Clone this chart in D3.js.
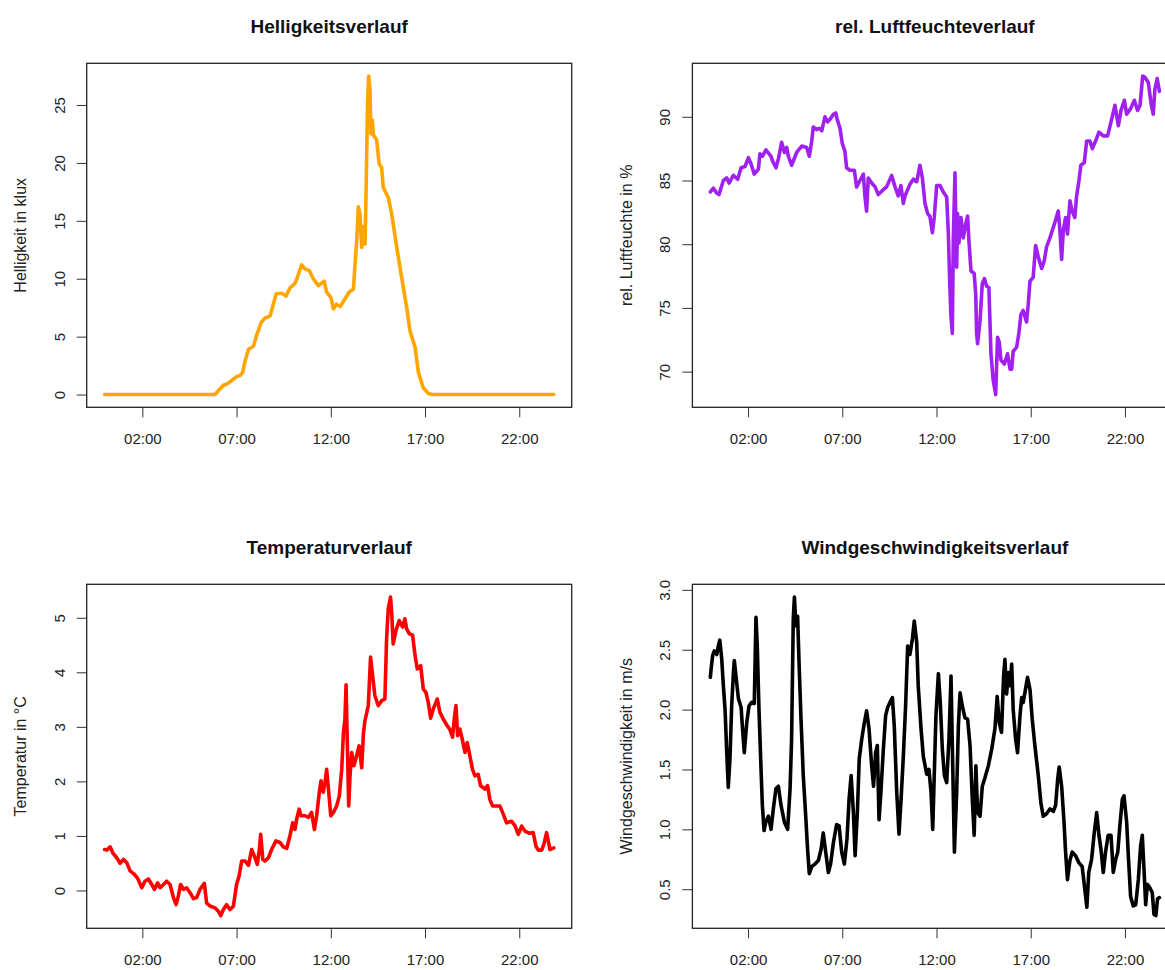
<!DOCTYPE html>
<html>
<head>
<meta charset="utf-8">
<script src="https://cdn.jsdelivr.net/npm/d3@7"></script>
<style>
  body { margin: 0; background: #fff; }
  svg { font-family: "Liberation Sans", Arial, sans-serif; }
</style>
</head>
<body>
<div id="chart"></div>
<script>
// time of day in hours

// Helligkeit (klux)
var lightHours = [0, 5.85, 6.3, 6.47, 6.73, 7.0, 7.18, 7.32, 7.45, 7.63, 7.9, 8.08, 8.3, 8.5, 8.78, 8.9, 9.1, 9.4, 9.62, 9.83,
  10.1, 10.2, 10.45, 10.63, 10.86, 11.07, 11.34, 11.65, 11.78, 12.0, 12.14, 12.3, 12.5, 12.75, 13.0, 13.2, 13.3, 13.38, 13.46, 13.55,
  13.64, 13.73, 13.82, 13.9, 13.95, 14.01, 14.08, 14.13, 14.2, 14.26, 14.43, 14.57, 14.7, 14.78, 15.05, 15.23, 15.5, 15.76, 16.03, 16.2,
  16.47, 16.65, 16.9, 17.17, 17.4, 23.83];
var lightKlux = [0, 0, 0.8, 0.9, 1.2, 1.55, 1.65, 1.9, 2.9, 3.9, 4.2, 5.2, 6.2, 6.6, 6.8, 7.5, 8.7, 8.75, 8.5, 9.2,
  9.6, 10.0, 11.2, 10.85, 10.7, 10.0, 9.4, 9.8, 8.85, 8.4, 7.4, 7.8, 7.6, 8.25, 8.9, 9.1, 11.6, 13.4, 16.2, 15.6,
  12.7, 14.5, 13.0, 20.2, 25.1, 27.5, 26.3, 22.5, 23.7, 22.4, 22.0, 19.9, 19.6, 17.9, 17.0, 15.6, 12.7, 10.1, 7.5, 5.5,
  4.1, 1.9, 0.6, 0.1, 0, 0];

// rel. Luftfeuchte (%)
var humidHours = [0, 0.16, 0.34, 0.46, 0.69, 0.87, 0.99, 1.22, 1.45, 1.63, 1.84, 2.02, 2.16, 2.33, 2.55, 2.63, 2.76, 2.95, 3.22, 3.31,
  3.48, 3.61, 3.78, 3.93, 4.05, 4.14, 4.31, 4.58, 4.85, 5.11, 5.25, 5.38, 5.46, 5.64, 5.77, 5.91, 6.08, 6.22, 6.35, 6.53,
  6.65, 6.75, 6.88, 7.0, 7.14, 7.23, 7.41, 7.64, 7.76, 7.94, 8.12, 8.2, 8.29, 8.38, 8.56, 8.74, 8.91, 9.12, 9.35, 9.62,
  9.8, 9.97, 10.11, 10.24, 10.33, 10.59, 10.77, 10.95, 11.12, 11.25, 11.39, 11.53, 11.65, 11.78, 11.88, 12.01, 12.19, 12.36, 12.54, 12.63,
  12.71, 12.77, 12.84, 12.89, 12.98, 13.07, 13.12, 13.19, 13.3, 13.42, 13.55, 13.65, 13.72, 13.83, 14.0, 14.08, 14.13, 14.18, 14.31, 14.43,
  14.54, 14.66, 14.78, 14.89, 15.01, 15.14, 15.24, 15.33, 15.42, 15.6, 15.77, 15.9, 15.99, 16.07, 16.25, 16.37, 16.48, 16.6, 16.78, 16.87,
  16.96, 17.13, 17.26, 17.4, 17.58, 17.72, 17.84, 18.02, 18.28, 18.46, 18.55, 18.64, 18.73, 18.85, 18.95, 19.08, 19.2, 19.34, 19.43, 19.56,
  19.66, 19.84, 19.97, 20.14, 20.27, 20.44, 20.62, 20.85, 21.08, 21.26, 21.47, 21.65, 21.79, 21.97, 22.09, 22.32, 22.5, 22.67, 22.8, 22.94,
  23.06, 23.24, 23.38, 23.5, 23.59, 23.71, 23.83];
var humidPct = [84.1, 84.4, 84.0, 83.9, 85.0, 85.2, 84.8, 85.4, 85.1, 86.0, 86.1, 86.8, 86.3, 85.5, 85.9, 87.1, 86.9, 87.4, 86.9, 86.5,
  86.0, 86.7, 88.0, 87.2, 87.6, 86.9, 86.2, 87.2, 87.7, 87.6, 86.9, 88.1, 89.2, 89.0, 89.1, 88.9, 90.0, 89.6, 89.8, 90.2,
  90.3, 89.7, 89.1, 87.9, 87.3, 86.0, 85.8, 85.8, 84.5, 85.0, 85.5, 83.8, 82.6, 85.2, 84.8, 84.5, 83.9, 84.2, 84.5, 85.4,
  84.5, 83.8, 84.6, 83.2, 83.8, 84.7, 85.1, 84.9, 86.2, 85.2, 83.2, 82.4, 82.2, 80.9, 82.1, 84.6, 84.6, 84.1, 83.7, 80.8,
  76.6, 74.3, 73.0, 80.3, 85.6, 78.2, 82.4, 80.1, 82.1, 80.5, 81.6, 82.2, 80.3, 77.9, 77.7, 76.1, 73.0, 72.2, 74.0, 76.9,
  77.3, 76.7, 76.6, 71.4, 69.3, 68.2, 72.7, 72.3, 70.9, 70.6, 71.4, 70.2, 70.2, 71.6, 71.9, 73.0, 74.5, 74.8, 73.9, 75.3,
  77.1, 77.4, 79.9, 79.0, 78.1, 78.7, 79.8, 80.5, 81.7, 82.6, 81.1, 78.8, 81.1, 82.1, 80.8, 83.4, 82.6, 82.1, 83.7, 85.0,
  86.2, 86.4, 88.1, 88.1, 87.5, 88.1, 88.8, 88.5, 88.5, 89.6, 90.9, 89.3, 90.5, 91.3, 90.2, 90.7, 91.3, 90.5, 90.9, 93.2,
  93.1, 92.7, 91.1, 90.2, 92.2, 93.0, 92.0];

// Temperatur (°C)
var tempHours = [0, 0.12, 0.29, 0.43, 0.64, 0.82, 1.0, 1.17, 1.35, 1.53, 1.74, 1.97, 2.14, 2.32, 2.5, 2.64, 2.81, 2.94, 3.12, 3.29,
  3.47, 3.65, 3.79, 3.91, 4.03, 4.18, 4.35, 4.53, 4.71, 4.88, 5.06, 5.29, 5.41, 5.62, 5.86, 6.03, 6.16, 6.3, 6.47, 6.65,
  6.83, 7.0, 7.13, 7.27, 7.45, 7.63, 7.8, 7.98, 8.1, 8.21, 8.28, 8.39, 8.51, 8.69, 8.86, 9.09, 9.3, 9.48, 9.66, 9.83,
  9.98, 10.1, 10.19, 10.32, 10.42, 10.63, 10.81, 10.98, 11.13, 11.25, 11.39, 11.48, 11.6, 11.69, 11.78, 11.89, 12.0, 12.14, 12.31, 12.45,
  12.58, 12.67, 12.75, 12.81, 12.88, 12.95, 13.02, 13.11, 13.23, 13.37, 13.5, 13.64, 13.73, 13.81, 13.99, 14.11, 14.22, 14.34, 14.52, 14.7,
  14.87, 14.96, 15.05, 15.17, 15.24, 15.31, 15.46, 15.63, 15.81, 15.93, 16.02, 16.16, 16.34, 16.47, 16.59, 16.77, 16.91, 17.05, 17.17, 17.3,
  17.44, 17.65, 17.79, 17.97, 18.18, 18.32, 18.46, 18.55, 18.64, 18.73, 18.85, 18.99, 19.12, 19.24, 19.38, 19.52, 19.65, 19.82, 19.95, 20.18,
  20.32, 20.44, 20.58, 20.8, 20.97, 21.15, 21.33, 21.59, 21.77, 21.95, 22.13, 22.3, 22.53, 22.74, 22.89, 23.01, 23.19, 23.31, 23.45, 23.54,
  23.63, 23.83];
var tempC = [0.75, 0.74, 0.80, 0.69, 0.60, 0.50, 0.57, 0.51, 0.36, 0.31, 0.23, 0.05, 0.17, 0.21, 0.11, 0.02, 0.14, 0.05, 0.11, 0.17,
  0.11, -0.13, -0.26, -0.10, 0.11, 0.02, 0.05, -0.04, -0.15, -0.13, 0.02, 0.13, -0.23, -0.29, -0.32, -0.38, -0.46, -0.35, -0.26, -0.35,
  -0.29, 0.11, 0.26, 0.54, 0.54, 0.46, 0.75, 0.60, 0.48, 0.75, 1.03, 0.57, 0.54, 0.60, 0.75, 0.91, 0.88, 0.80, 0.77, 1.0,
  1.24, 1.12, 1.31, 1.49, 1.37, 1.37, 1.34, 1.43, 1.12, 1.37, 1.80, 2.01, 1.80, 1.98, 2.22, 1.80, 1.37, 1.43, 1.55, 1.73,
  2.22, 2.90, 3.14, 3.77, 2.65, 1.55, 2.10, 2.53, 2.29, 2.47, 2.65, 2.25, 2.87, 3.11, 3.39, 4.28, 3.94, 3.57, 3.39, 3.48,
  3.51, 4.61, 5.17, 5.38, 5.04, 4.52, 4.77, 4.95, 4.83, 4.98, 4.80, 4.71, 4.68, 4.31, 4.06, 4.12, 3.69, 3.63, 3.45, 3.16,
  3.33, 3.51, 3.27, 3.14, 3.02, 2.95, 2.81, 3.14, 3.39, 2.84, 2.96, 2.75, 2.53, 2.71, 2.47, 2.22, 2.10, 2.13, 1.92, 1.86,
  1.92, 1.67, 1.55, 1.55, 1.55, 1.40, 1.24, 1.27, 1.19, 1.03, 1.18, 1.09, 1.05, 1.06, 0.81, 0.74, 0.74, 0.85, 1.06, 0.91,
  0.75, 0.78];

// Windgeschwindigkeit (m/s)
var windHours = [0, 0.04, 0.12, 0.21, 0.34, 0.42, 0.5, 0.6, 0.69, 0.78, 0.87, 0.95, 1.04, 1.13, 1.22, 1.27, 1.36, 1.49, 1.63, 1.72,
  1.8, 1.93, 2.05, 2.19, 2.33, 2.42, 2.49, 2.58, 2.69, 2.76, 2.85, 2.94, 3.08, 3.22, 3.34, 3.48, 3.61, 3.75, 3.93, 4.1,
  4.23, 4.31, 4.4, 4.46, 4.54, 4.63, 4.7, 4.81, 4.93, 5.06, 5.16, 5.25, 5.38, 5.55, 5.73, 5.87, 5.99, 6.12, 6.26, 6.38,
  6.53, 6.7, 6.83, 6.97, 7.11, 7.25, 7.36, 7.47, 7.59, 7.68, 7.8, 7.9, 8.03, 8.17, 8.29, 8.42, 8.56, 8.66, 8.77, 8.86,
  8.95, 9.05, 9.18, 9.3, 9.41, 9.53, 9.66, 9.76, 9.89, 10.01, 10.12, 10.24, 10.36, 10.47, 10.59, 10.72, 10.82, 10.95, 11.03, 11.18,
  11.3, 11.48, 11.6, 11.71, 11.8, 11.88, 11.97, 12.1, 12.2, 12.31, 12.42, 12.54, 12.66, 12.77, 12.84, 12.95, 13.07, 13.16, 13.25, 13.37,
  13.51, 13.65, 13.78, 13.9, 14.0, 14.09, 14.18, 14.31, 14.43, 14.57, 14.75, 14.93, 15.1, 15.22, 15.33, 15.45, 15.56, 15.63, 15.72, 15.81,
  15.9, 15.99, 16.07, 16.2, 16.3, 16.43, 16.52, 16.6, 16.69, 16.83, 16.96, 17.08, 17.22, 17.4, 17.54, 17.66, 17.84, 18.02, 18.2, 18.32,
  18.43, 18.51, 18.64, 18.76, 18.85, 18.95, 19.08, 19.2, 19.38, 19.56, 19.73, 19.87, 19.98, 20.08, 20.23, 20.37, 20.5, 20.62, 20.73, 20.85,
  20.97, 21.11, 21.26, 21.38, 21.51, 21.62, 21.73, 21.86, 21.95, 22.09, 22.19, 22.3, 22.44, 22.57, 22.71, 22.83, 22.92, 23.01, 23.1, 23.19,
  23.33, 23.45, 23.54, 23.64, 23.73, 23.83];
var windMs = [2.27, 2.34, 2.45, 2.49, 2.46, 2.53, 2.58, 2.43, 2.20, 2.00, 1.64, 1.35, 1.59, 2.03, 2.30, 2.41, 2.28, 2.09, 2.02, 1.81,
  1.64, 1.89, 2.03, 2.06, 2.05, 2.77, 2.53, 2.00, 1.50, 1.20, 0.99, 1.06, 1.11, 1.00, 1.17, 1.34, 1.36, 1.20, 1.06, 1.00,
  1.34, 1.75, 2.76, 2.94, 2.70, 2.78, 2.42, 1.92, 1.45, 1.11, 0.83, 0.63, 0.69, 0.71, 0.74, 0.83, 0.97, 0.81, 0.64, 0.71,
  0.89, 1.04, 1.03, 0.81, 0.71, 0.92, 1.25, 1.45, 1.14, 0.78, 1.14, 1.59, 1.75, 1.89, 1.99, 1.84, 1.53, 1.36, 1.64, 1.70,
  1.08, 1.31, 1.67, 1.95, 2.02, 2.06, 2.10, 1.86, 1.31, 0.96, 1.25, 1.61, 2.03, 2.53, 2.46, 2.59, 2.74, 2.56, 2.20, 1.84,
  1.61, 1.46, 1.50, 1.31, 1.00, 1.45, 1.95, 2.30, 2.06, 1.67, 1.45, 1.39, 1.75, 2.28, 1.70, 0.81, 1.31, 1.86, 2.14, 2.03,
  1.93, 1.92, 1.70, 1.25, 0.95, 1.53, 1.14, 1.11, 1.36, 1.43, 1.53, 1.67, 1.84, 2.11, 1.89, 1.81, 2.28, 2.42, 2.13, 2.31,
  2.20, 2.38, 2.00, 1.75, 1.64, 1.95, 2.10, 2.06, 2.14, 2.27, 2.17, 1.92, 1.70, 1.45, 1.22, 1.11, 1.13, 1.17, 1.15, 1.20,
  1.42, 1.52, 1.36, 1.08, 0.81, 0.58, 0.74, 0.81, 0.78, 0.72, 0.69, 0.50, 0.35, 0.64, 0.75, 0.97, 1.14, 0.95, 0.83, 0.64,
  0.81, 0.95, 0.95, 0.64, 0.75, 0.81, 1.03, 1.25, 1.28, 1.06, 0.75, 0.44, 0.36, 0.37, 0.58, 0.86, 0.95, 0.67, 0.37, 0.54,
  0.51, 0.47, 0.29, 0.28, 0.42, 0.43];

var xTickLabels = ["02:00", "07:00", "12:00", "17:00", "22:00"];
var lightTicks = ["0", "5", "10", "15", "20", "25"];
var humidTicks = ["70", "75", "80", "85", "90"];
var tempTicks = ["0", "1", "2", "3", "4", "5"];
var windTicks = ["0.5", "1.0", "1.5", "2.0", "2.5", "3.0"];

var titles = ["Helligkeitsverlauf", "rel. Luftfeuchteverlauf", "Temperaturverlauf", "Windgeschwindigkeitsverlauf"];
var yLabels = ["Helligkeit in klux", "rel. Luftfeuchte in %", "Temperatur in °C", "Windgeschwindigkeit in m/s"];
var lineColors = ["#ffa500", "#a020f0", "#ff0000", "#000000"];

var panels = [
  {hours: lightHours, values: lightKlux, ticks: lightTicks},
  {hours: humidHours, values: humidPct, ticks: humidTicks},
  {hours: tempHours, values: tempC, ticks: tempTicks},
  {hours: windHours, values: windMs, ticks: windTicks}
];
panels.forEach(function(p, i) {
  p.title = titles[i];
  p.ylab = yLabels[i];
  p.color = lineColors[i];
  if (p.hours.length != p.values.length)
    throw new Error(p.title + ": " + p.hours.length + " times, " + p.values.length + " values");
});

var W = 1165, H = 970;
// plot region of the top-left panel, the other three are shifted by one cell
var box = {left: 86.7, top: 63.3, width: 485, height: 344},
    cell = {dx: 605.7, dy: 521};

var svg = d3.select("#chart")
  .append("svg")
    .attr("width", W)
    .attr("height", H);

// R pads the data range by 4% on each side
function padded(ext) {
  var pad = (ext[1] - ext[0]) * 0.04;
  return [ext[0] - pad, ext[1] + pad];
}

var xDomain = padded(d3.extent(d3.merge(panels.map(function(p) { return p.hours; }))));
var xTickHours = xTickLabels.map(function(s) { return +s.split(":")[0]; });

panels.forEach(function(p, i) {
  var col = i % 2, row = Math.floor(i / 2);
  var g = svg.append("g")
    .attr("transform", "translate(" + (box.left + col * cell.dx) + "," + (box.top + row * cell.dy) + ")");

  var x = d3.scaleLinear().domain(xDomain).range([0, box.width]);
  var y = d3.scaleLinear().domain(padded(d3.extent(p.values))).range([box.height, 0]);

  // x axis
  var xa = g.append("g")
    .attr("transform", "translate(0," + box.height + ")")
    .call(d3.axisBottom(x)
      .tickValues(xTickHours)
      .tickFormat(function(d) { return xTickLabels[xTickHours.indexOf(d)]; })
      .tickSize(10));
  xa.select(".domain").remove();
  xa.attr("font-family", null).attr("font-size", 15);
  xa.selectAll("line").attr("stroke", "#333");
  xa.selectAll("text").attr("y", 37).attr("dy", null).attr("fill", "#222");

  // y axis, labels turned like R's las = 0
  var tickNums = p.ticks.map(Number);
  var ya = g.append("g")
    .call(d3.axisLeft(y)
      .tickValues(tickNums)
      .tickFormat(function(d) { return p.ticks[tickNums.indexOf(d)]; })
      .tickSize(10));
  ya.select(".domain").remove();
  ya.attr("font-family", null).attr("font-size", 15);
  ya.selectAll("line").attr("stroke", "#333");
  ya.selectAll("text")
    .attr("x", 0)
    .attr("dy", null)
    .attr("text-anchor", "middle")
    .attr("fill", "#222")
    .attr("transform", "translate(-22,0) rotate(-90)");

  // the series
  var line = d3.line()
    .x(function(d, k) { return x(p.hours[k]); })
    .y(function(d) { return y(d); });
  g.append("path")
    .datum(p.values)
    .attr("d", line)
    .attr("fill", "none")
    .attr("stroke", p.color)
    .attr("stroke-width", 3.6)
    .attr("stroke-linejoin", "round")
    .attr("stroke-linecap", "round");

  g.append("rect")
    .attr("width", box.width)
    .attr("height", box.height)
    .attr("fill", "none")
    .attr("stroke", "#222")
    .attr("stroke-width", 1.3);

  g.append("text")
    .attr("x", box.width / 2)
    .attr("y", -30.3)
    .attr("text-anchor", "middle")
    .attr("font-weight", "bold")
    .attr("font-size", 19)
    .attr("fill", "#111")
    .text(p.title);

  g.append("text")
    .attr("transform", "translate(-60.7," + (box.height / 2) + ") rotate(-90)")
    .attr("text-anchor", "middle")
    .attr("font-size", 16)
    .attr("fill", "#222")
    .text(p.ylab);
});
</script>
</body>
</html>
